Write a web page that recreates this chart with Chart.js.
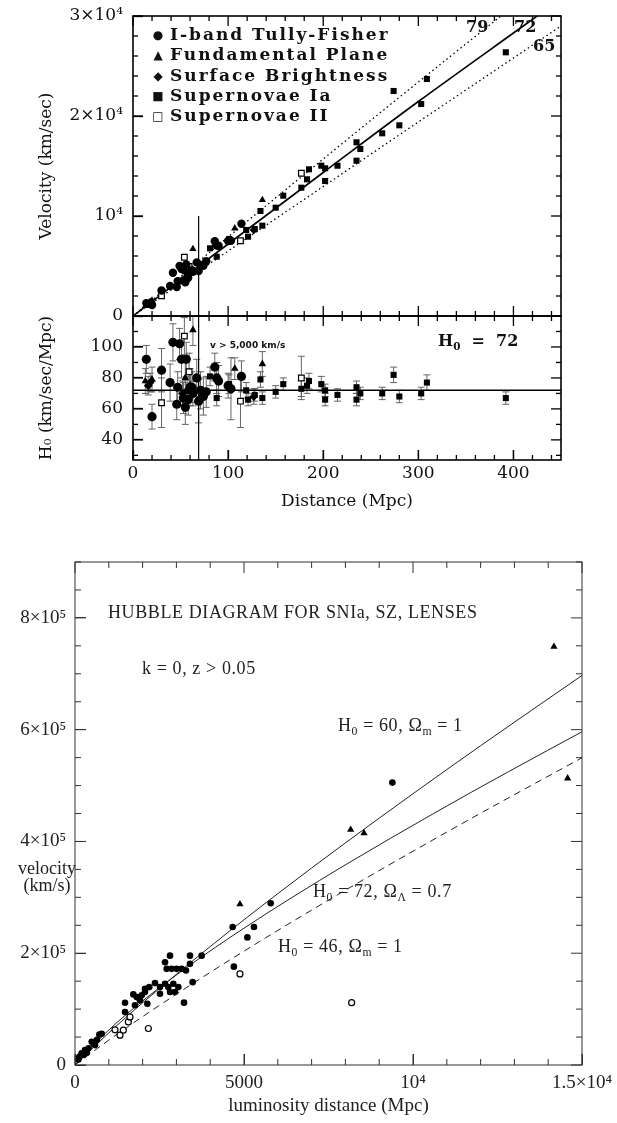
<!DOCTYPE html>
<html>
<head>
<meta charset="utf-8">
<script src="https://cdn.jsdelivr.net/npm/chart.js@4.4.0/dist/chart.umd.min.js"></script>
<style>
  body { margin: 0; background: #fff; width: 617px; height: 1123px; position: relative; overflow: hidden; color: #111; }
  canvas { position: absolute; left: 0; }
  .note { position: absolute; white-space: nowrap; line-height: 1; transform: translateY(-50%); }
  .bold { font-family: "DejaVu Serif", serif; font-weight: bold; font-size: 16px; }
  .thin { font-family: "Liberation Serif", serif; font-size: 18px; color: #222; letter-spacing: 0.6px; }
  .thin sub, .bold sub { font-size: 65%; vertical-align: -0.35em; }
  .legend-row { position: absolute; left: 146px; white-space: nowrap; transform: translateY(-50%); font-family: "DejaVu Serif", serif; font-weight: bold; font-size: 17px; letter-spacing: 2px; }
  .legend-row .sym { display: inline-block; width: 24px; font-family: "DejaVu Sans", sans-serif; font-size: 12px; text-align: center; letter-spacing: 0; vertical-align: 1px; }
</style>
</head>
<body>
<canvas id="velocityChart" style="top:0" width="617" height="330"></canvas>
<canvas id="hubbleConstChart" style="top:300px" width="617" height="220"></canvas>
<canvas id="luminosityChart" style="top:540px" width="617" height="583"></canvas>

<div class="legend-row" style="top:34px"><span class="sym">●</span>I-band Tully-Fisher</div>
<div class="legend-row" style="top:54px"><span class="sym">▲</span>Fundamental Plane</div>
<div class="legend-row" style="top:75px"><span class="sym">◆</span>Surface Brightness</div>
<div class="legend-row" style="top:95px"><span class="sym">■</span>Supernovae Ia</div>
<div class="legend-row" style="top:115px"><span class="sym">□</span>Supernovae II</div>

<div class="note bold" style="left:466px;top:27px">79</div>
<div class="note bold" style="left:514px;top:27px">72</div>
<div class="note bold" style="left:533px;top:46px">65</div>
<div class="note bold" style="left:438px;top:342px">H<sub>0</sub> &nbsp;= &nbsp;72</div>
<div class="note" style="left:210px;top:345px;font:bold 9px 'DejaVu Sans',sans-serif">v &gt; 5,000 km/s</div>

<div class="note thin" style="left:108px;top:612px">HUBBLE DIAGRAM FOR SNIa, SZ, LENSES</div>
<div class="note thin" style="left:142px;top:668px">k = 0, z &gt; 0.05</div>
<div class="note thin" style="left:338px;top:727px">H<sub>0</sub> = 60, Ω<sub>m</sub> = 1</div>
<div class="note thin" style="left:313px;top:893px">H<sub>0</sub> = 72, Ω<sub>Λ</sub> = 0.7</div>
<div class="note thin" style="left:278px;top:948px">H<sub>0</sub> = 46, Ω<sub>m</sub> = 1</div>
<div class="note thin" style="left:18px;top:877px;text-align:center;line-height:0.95;letter-spacing:0">velocity<br>(km/s)</div>

<script>
// ---- top panels: distance in Mpc ----
const VEL_TICKS = [0, 10000, 20000, 30000];
const VEL_TICK_LABELS = ["0", "10⁴", "2×10⁴", "3×10⁴"];
const H0_TICKS = [40, 60, 80, 100];
const DIST_TICKS = [0, 100, 200, 300, 400];

const TF_DIST = [14, 20, 30, 39, 42, 46, 47, 49, 51, 53, 55, 56, 58, 60, 62, 63, 67, 69, 71, 74, 77, 86, 88, 90, 100, 103, 114];
const TF_VEL = [1290, 1100, 2550, 3000, 4330, 2900, 3480, 5000, 4700, 3550, 3360, 5150, 3830, 4440, 4590, 4410, 5360, 4490, 5110, 5030, 5470, 7480, 7040, 7020, 7500, 7520, 9230];
const TF_H0 = [92, 55, 85, 77, 103, 63, 74, 102, 92, 67, 61, 92, 66, 74, 74, 70, 80, 65, 72, 68, 71, 87, 80, 78, 75, 73, 81];
const TF_ERR = [9, 8, 14, 12, 12, 10, 10, 10, 12, 10, 11, 11, 10, 12, 10, 8, 12, 14, 12, 12, 10, 9, 10, 10, 8, 20, 10];

const FP_DIST = [13, 20, 55, 63, 107, 136];
const FP_VEL = [1000, 1560, 4400, 6700, 8770, 11600];
const FP_H0 = [78, 79, 80, 111, 86, 89];
const FP_ERR = [8, 8, 10, 10, 7, 8];

const SBF_DIST = [16, 18, 52, 57, 60, 127];
const SBF_VEL = [1200, 1400, 3600, 4100, 4500, 8600];
const SBF_H0 = [75, 77, 70, 72, 75, 68];
const SBF_ERR = [6, 6, 8, 8, 8, 5];

const SN1A_DIST = [81, 88, 101, 119, 121, 128, 134, 136, 150, 158, 177, 183, 185, 198, 202, 202, 215, 235, 235, 239, 262, 274, 280, 303, 309, 392];
const SN1A_VEL = [6770, 5930, 7700, 8600, 7930, 8700, 10500, 9030, 10830, 12030, 12830, 13670, 14670, 15030, 14770, 13500, 15030, 17370, 15530, 16700, 18270, 22500, 19070, 21200, 23700, 26370];
const SN1A_H0 = [81, 67, 76, 72, 66, 69, 79, 67, 71, 76, 73, 75, 78, 76, 72, 66, 69, 74, 66, 70, 70, 82, 68, 70, 77, 67];
const SN1A_ERR = [6, 5, 6, 5, 4, 4, 5, 4, 4, 4, 5, 5, 5, 5, 4, 4, 4, 4, 4, 4, 4, 5, 4, 4, 5, 4];

const SN2_DIST = [30, 54, 59, 113, 177];
const SN2_VEL = [2030, 5870, 4950, 7530, 14270];
const SN2_H0 = [64, 107, 84, 65, 80];
const SN2_ERR = [16, 12, 12, 17, 14];

const FIT_DIST = [0, 100, 200, 300, 400, 450];
const FIT72_VEL = [0, 7200, 14350, 21450, 28300, 31700];
const FIT79_VEL = [0, 7900, 15700, 23400, 31000, 34800];
const FIT65_VEL = [0, 6500, 12950, 19400, 25800, 29000];

const H0_LINE_DIST = [0, 450];
const H0_LINE_VALUE = [72, 72];
const CUT_DIST = [69, 69];
const CUT_VEL = [0, 10000];
const CUT_H0 = [27, 120];

// ---- bottom chart: luminosity distance in Mpc, velocity km/s ----
const LUM_X_TICKS = [0, 5000, 10000, 15000];
const LUM_X_LABELS = ["0", "5000", "10⁴", "1.5×10⁴"];
const LUM_Y_TICKS = [0, 200000, 400000, 600000, 800000];
const LUM_Y_LABELS = ["0", "2×10⁵", "4×10⁵", "6×10⁵", "8×10⁵"];

const SN_DIST = [100, 128, 197, 250, 296, 350, 400, 494, 550, 592, 650, 720, 790, 1480, 1480, 1726, 1775, 1825, 1923, 1972, 2071, 2071, 2140, 2199, 2367, 2515, 2515, 2663, 2663, 2712, 2761, 2811, 2811, 2860, 2909, 2958, 3008, 3057, 3156, 3225, 3284, 3402, 3402, 3481, 3748, 4665, 4700, 5100, 5295, 5790, 9390];
const SN_VEL = [10000, 14800, 20800, 18000, 26700, 22000, 30000, 41500, 38000, 35600, 45000, 54600, 56000, 111500, 94900, 126300, 106800, 121500, 115700, 124600, 130500, 136400, 109700, 139400, 146500, 139400, 127600, 145400, 183900, 172000, 139400, 195700, 130500, 172000, 145400, 130500, 172000, 139400, 172000, 111600, 169000, 181000, 195700, 148200, 195700, 247000, 176000, 228300, 247000, 289500, 505300];
const TRI_DIST = [4880, 8155, 8550, 14170, 14575];
const TRI_VEL = [287700, 421000, 415000, 748600, 513000];
const OPEN_DIST = [1183, 1331, 1430, 1578, 1627, 2170, 4880, 8185];
const OPEN_VEL = [63000, 53400, 62300, 77000, 86000, 65300, 163000, 111500];

const EDS_DIST = [0, 1000, 2000, 4000, 6000, 8000, 10000, 12000, 15000];
const EDS60_VEL = [0, 57500, 111200, 211900, 306600, 397400, 485400, 571300, 697000];
const EDS46_VEL = [0, 44500, 86500, 165800, 240800, 312800, 382500, 450500, 549700];
const LCDM_DIST = [0, 953, 2112, 3432, 4879, 6426, 8051, 10610, 12830, 15116];
const LCDM_VEL = [0, 60000, 120000, 180000, 240000, 300000, 360000, 450000, 525000, 600000];

function toPoints(xs, ys) {
  return xs.map((x, i) => ({ x, y: ys[i] }));
}

function pointSet(xs, ys, style, radius, filled, errors) {
  return {
    data: toPoints(xs, ys),
    pointStyle: style,
    pointRadius: radius,
    pointBackgroundColor: filled ? "#000" : "#fff",
    pointBorderColor: "#000",
    pointBorderWidth: filled ? 0 : 1.2,
    showLine: false,
    errors,
    order: 1,
  };
}

function lineSet(xs, ys, dash, width, color) {
  return {
    data: toPoints(xs, ys),
    showLine: true,
    pointRadius: 0,
    borderColor: color || "#000",
    borderWidth: width,
    borderDash: dash,
    cubicInterpolationMode: "monotone",
    order: 5,
  };
}

// inward tick marks as thin filled rects
function drawTicks(ctx, scale, area, spec, horizontal, w) {
  const count = Math.round((spec.end - spec.start) / spec.minor);
  for (let i = 0; i <= count; i++) {
    const value = spec.start + i * spec.minor;
    const ratio = (value - spec.majorStart) / spec.major;
    const len = Math.abs(ratio - Math.round(ratio)) < 1e-6 ? spec.majorLen : spec.minorLen;
    const p = scale.getPixelForValue(value);
    if (horizontal) {
      ctx.fillRect(p - w / 2, area.bottom - len, w, len);
      ctx.fillRect(p - w / 2, area.top, w, len);
    } else {
      ctx.fillRect(area.left, p - w / 2, len, w);
      ctx.fillRect(area.right - len, p - w / 2, len, w);
    }
  }
}

function makeFramePlugin(frame) {
  return {
    id: "frame",
    afterDraw(chart) {
      const { ctx, chartArea: area, scales } = chart;
      ctx.save();
      ctx.setLineDash([]);
      ctx.strokeStyle = frame.color;
      ctx.fillStyle = frame.color;
      ctx.lineWidth = frame.lineWidth;
      ctx.strokeRect(area.left, area.top, area.right - area.left, area.bottom - area.top);
      drawTicks(ctx, scales.x, area, frame.x, true, frame.tickWidth);
      drawTicks(ctx, scales.y, area, frame.y, false, frame.tickWidth);
      ctx.restore();
    },
  };
}

const errorBarPlugin = {
  id: "errorBars",
  beforeDatasetsDraw(chart) {
    const { ctx, chartArea: area, scales: { x, y } } = chart;
    ctx.save();
    ctx.beginPath();
    ctx.rect(area.left, area.top, area.right - area.left, area.bottom - area.top);
    ctx.clip();
    ctx.strokeStyle = "#555";
    ctx.lineWidth = 0.9;
    chart.data.datasets.forEach((ds) => {
      if (!ds.errors) return;
      ds.data.forEach((pt, i) => {
        const px = x.getPixelForValue(pt.x);
        const hi = y.getPixelForValue(pt.y + ds.errors[i]);
        const lo = y.getPixelForValue(pt.y - ds.errors[i]);
        ctx.beginPath();
        ctx.moveTo(px, hi); ctx.lineTo(px, lo);
        ctx.moveTo(px - 3.5, hi); ctx.lineTo(px + 3.5, hi);
        ctx.moveTo(px - 3.5, lo); ctx.lineTo(px + 3.5, lo);
        ctx.stroke();
      });
    });
    ctx.restore();
  },
};

// keep the plot box exactly where layout.padding puts it
const noLabelPadding = (scale) => {
  scale.paddingTop = 0; scale.paddingBottom = 0; scale.paddingLeft = 0; scale.paddingRight = 0;
};

// library tick marks, pointing into the plot
const inwardGrid = (len, color, width) => ({
  display: true, drawOnChartArea: false, drawTicks: true, tickLength: -len, tickColor: color, tickWidth: width,
});

const topFont = { family: "DejaVu Serif", size: 17 };
const thinFont = { family: "Liberation Serif", size: 19 };
const distTickSpec = { start: 0, end: 440, minor: 20, major: 100, majorStart: 0, majorLen: 10, minorLen: 5 };

new Chart(document.getElementById("velocityChart"), {
  type: "scatter",
  data: {
    datasets: [
      pointSet(TF_DIST, TF_VEL, "circle", 4.2, true),
      pointSet(FP_DIST, FP_VEL, "triangle", 4.2, true),
      pointSet(SBF_DIST, SBF_VEL, "rectRot", 4.2, true),
      pointSet(SN1A_DIST, SN1A_VEL, "rect", 4.3, true),
      pointSet(SN2_DIST, SN2_VEL, "rect", 4.0, false),
      lineSet(FIT_DIST, FIT72_VEL, [], 1.6),
      lineSet(FIT_DIST, FIT79_VEL, [1.5, 3], 1.3),
      lineSet(FIT_DIST, FIT65_VEL, [1.5, 3], 1.3),
      lineSet(CUT_DIST, CUT_VEL, [], 1.2),
    ],
  },
  options: {
    responsive: false,
    animation: false,
    layout: { padding: { top: 16, right: 56, bottom: 14, left: 0 } },
    plugins: { legend: { display: false }, tooltip: { enabled: false } },
    scales: {
      x: { type: "linear", min: 0, max: 450, display: false },
      y: {
        type: "linear", min: 0, max: 30000,
        grid: inwardGrid(10, "#000", 1.3), border: { display: false },
        afterFit: (scale) => { scale.width = 133; noLabelPadding(scale); },
        afterBuildTicks: (scale) => { scale.ticks = VEL_TICKS.map((value) => ({ value })); },
        ticks: { color: "#111", font: topFont, padding: 20, callback: (value, index) => VEL_TICK_LABELS[index] },
        title: { display: true, text: "Velocity (km/sec)", color: "#111", font: topFont, padding: { top: 36 } },
      },
    },
  },
  plugins: [errorBarPlugin, makeFramePlugin({
    color: "#000", lineWidth: 1.6, tickWidth: 1.3,
    x: distTickSpec,
    y: { start: 0, end: 30000, minor: 2000, major: 10000, majorStart: 0, majorLen: 10, minorLen: 5 },
  })],
});

new Chart(document.getElementById("hubbleConstChart"), {
  type: "scatter",
  data: {
    datasets: [
      pointSet(TF_DIST, TF_H0, "circle", 4.6, true, TF_ERR),
      pointSet(FP_DIST, FP_H0, "triangle", 4.4, true, FP_ERR),
      pointSet(SBF_DIST, SBF_H0, "rectRot", 4.4, true, SBF_ERR),
      pointSet(SN1A_DIST, SN1A_H0, "rect", 4.3, true, SN1A_ERR),
      pointSet(SN2_DIST, SN2_H0, "rect", 4.0, false, SN2_ERR),
      lineSet(H0_LINE_DIST, H0_LINE_VALUE, [], 1.5),
      lineSet(CUT_DIST, CUT_H0, [], 1.2),
    ],
  },
  options: {
    responsive: false,
    animation: false,
    layout: { padding: { top: 16, right: 56, bottom: 0, left: 0 } },
    plugins: { legend: { display: false }, tooltip: { enabled: false } },
    scales: {
      x: {
        type: "linear", min: 0, max: 450,
        grid: inwardGrid(10, "#000", 1.3), border: { display: false },
        afterFit: (scale) => { scale.height = 60; noLabelPadding(scale); },
        afterBuildTicks: (scale) => { scale.ticks = DIST_TICKS.map((value) => ({ value })); },
        ticks: { color: "#111", font: topFont, padding: 13, maxRotation: 0 },
        title: { display: true, text: "Distance (Mpc)", color: "#111", font: topFont, padding: { bottom: 8 } },
      },
      y: {
        type: "linear", min: 27, max: 120,
        grid: inwardGrid(10, "#000", 1.3), border: { display: false },
        afterFit: (scale) => { scale.width = 133; noLabelPadding(scale); },
        afterBuildTicks: (scale) => { scale.ticks = H0_TICKS.map((value) => ({ value })); },
        ticks: { color: "#111", font: topFont, padding: 20 },
        title: { display: true, text: "H₀ (km/sec/Mpc)", color: "#111", font: topFont, padding: { top: 36 } },
      },
    },
  },
  plugins: [errorBarPlugin, makeFramePlugin({
    color: "#000", lineWidth: 1.6, tickWidth: 1.3,
    x: distTickSpec,
    y: { start: 30, end: 120, minor: 10, major: 20, majorStart: 40, majorLen: 10, minorLen: 5 },
  })],
});

new Chart(document.getElementById("luminosityChart"), {
  type: "scatter",
  data: {
    datasets: [
      pointSet(SN_DIST, SN_VEL, "circle", 3.3, true),
      pointSet(TRI_DIST, TRI_VEL, "triangle", 4.2, true),
      pointSet(OPEN_DIST, OPEN_VEL, "circle", 3, false),
      lineSet(EDS_DIST, EDS60_VEL, [], 1, "#222"),
      lineSet(LCDM_DIST, LCDM_VEL, [], 1, "#222"),
      lineSet(EDS_DIST, EDS46_VEL, [7, 5], 1, "#222"),
    ],
  },
  options: {
    responsive: false,
    animation: false,
    layout: { padding: { top: 22, right: 35, bottom: 0, left: 0 } },
    plugins: { legend: { display: false }, tooltip: { enabled: false } },
    scales: {
      x: {
        type: "linear", min: 0, max: 15000,
        grid: inwardGrid(11, "#333", 1), border: { display: false },
        afterFit: (scale) => { scale.height = 58; noLabelPadding(scale); },
        afterBuildTicks: (scale) => { scale.ticks = LUM_X_TICKS.map((value) => ({ value })); },
        ticks: { color: "#222", font: thinFont, padding: 18, maxRotation: 0, callback: (value, index) => LUM_X_LABELS[index] },
        title: { display: true, text: "luminosity distance (Mpc)", color: "#222", font: thinFont, padding: { bottom: 6 } },
      },
      y: {
        type: "linear", min: 0, max: 900000,
        grid: inwardGrid(11, "#333", 1), border: { display: false },
        afterFit: (scale) => { scale.width = 75; noLabelPadding(scale); },
        afterBuildTicks: (scale) => { scale.ticks = LUM_Y_TICKS.map((value) => ({ value })); },
        ticks: { color: "#222", font: thinFont, padding: 20, callback: (value, index) => LUM_Y_LABELS[index] },
      },
    },
  },
  plugins: [makeFramePlugin({
    color: "#333", lineWidth: 1, tickWidth: 1,
    x: { start: 0, end: 15000, minor: 1000, major: 5000, majorStart: 0, majorLen: 11, minorLen: 6 },
    y: { start: 0, end: 900000, minor: 50000, major: 200000, majorStart: 0, majorLen: 11, minorLen: 6 },
  })],
});
</script>
</body>
</html>
